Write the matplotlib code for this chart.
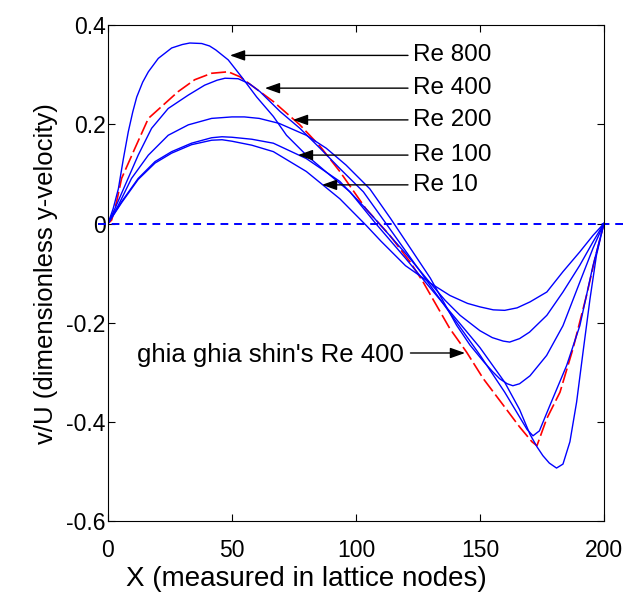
import numpy as np
import matplotlib.pyplot as plt

# centreline v-velocity (x in lattice nodes, v/U)
x_re800 = [0, 2.1, 4.2, 6.2, 8.2, 10, 11.6, 14, 16.3, 20.3, 25.7, 30, 33, 37.8, 41, 43.5, 48.5, 54, 60, 66.7,
           72, 80, 88, 97.6, 108, 120, 130, 140, 150, 160, 166, 170.2, 173, 175.4, 178, 180.9, 183.5, 186.3,
           189, 191.7, 194.4, 197, 200]
v_re800 = [0, 0.03, 0.07, 0.13, 0.185, 0.225, 0.255, 0.285, 0.306, 0.333, 0.354, 0.361, 0.364, 0.363, 0.358,
           0.350, 0.33, 0.295, 0.255, 0.216, 0.178, 0.138, 0.104, 0.064, 0.0, -0.07, -0.13, -0.19, -0.25, -0.32,
           -0.375, -0.425, -0.45, -0.468, -0.483, -0.493, -0.485, -0.44, -0.36, -0.255, -0.152, -0.064, 0]

x_re400 = [0, 2.8, 6.9, 12.2, 17.6, 24.3, 32.4, 39, 44, 47.2, 52.5, 57, 61.3, 69.4, 77.4, 85.5, 93.5, 103, 110,
           120, 130, 140, 150, 160, 166, 169, 171.4, 174, 178.2, 185, 190.3, 195.6, 200]
v_re400 = [0, 0.03, 0.077, 0.138, 0.192, 0.232, 0.259, 0.279, 0.289, 0.293, 0.292, 0.282, 0.266, 0.226, 0.192,
           0.152, 0.111, 0.064, 0.015, -0.055, -0.125, -0.195, -0.265, -0.34, -0.39, -0.415, -0.428, -0.418,
           -0.367, -0.286, -0.206, -0.085, 0]

x_re200 = [0, 4.2, 9.5, 16.3, 24.3, 32.4, 41.8, 50, 55, 61, 69, 80, 88, 96, 105.6, 114, 122, 130, 140.6, 146,
           151.6, 155, 158, 161, 163.3, 166, 170.2, 176.9, 183.5, 190.3, 195.6, 200]
v_re200 = [0, 0.037, 0.091, 0.138, 0.178, 0.199, 0.212, 0.215, 0.215, 0.212, 0.202, 0.178, 0.152, 0.118, 0.07,
           0.01, -0.05, -0.11, -0.205, -0.245, -0.279, -0.298, -0.313, -0.323, -0.327, -0.323, -0.307, -0.266,
           -0.206, -0.118, -0.05, 0]

x_re100 = [0, 5.5, 12.2, 19, 25.7, 33.7, 41.8, 46, 50, 58, 66.7, 80, 93.5, 104, 112, 120, 130, 136, 142, 150,
           155, 159.4, 162, 166, 170, 177, 183.5, 190.3, 195.6, 200]
v_re100 = [0, 0.044, 0.091, 0.125, 0.145, 0.162, 0.173, 0.175, 0.174, 0.170, 0.162, 0.131, 0.085, 0.03, -0.015,
           -0.06, -0.12, -0.155, -0.185, -0.216, -0.23, -0.237, -0.239, -0.232, -0.219, -0.185, -0.138, -0.084,
           -0.037, 0]

x_re10 = [0, 5.5, 12.2, 19, 25.7, 33.7, 41.8, 46, 50, 58, 66.7, 80, 93.5, 104, 110, 120, 130, 137.9, 145, 150,
          155.4, 160, 165, 170.2, 177, 183.5, 190.3, 195.6, 200]
v_re10 = [0, 0.042, 0.089, 0.122, 0.142, 0.159, 0.168, 0.169, 0.166, 0.158, 0.145, 0.105, 0.05, -0.003, -0.035,
          -0.085, -0.12, -0.145, -0.161, -0.168, -0.174, -0.175, -0.17, -0.158, -0.138, -0.097, -0.057, -0.024, 0]

# ghia, ghia & shin reference, Re 400
x_ghia = [0, 1.5, 3.5, 5.5, 10.9, 16.3, 22.3, 28.3, 35, 41.8, 48.5, 53.2, 66.7, 77.4, 85.5, 93.5, 104, 113.7,
          121.8, 127, 131, 137.9, 144.6, 151.4, 160, 166, 171, 173, 176.9, 182.3, 187.5, 190.3, 193, 196.4, 200]
v_ghia = [0, 0.007, 0.044, 0.091, 0.152, 0.212, 0.239, 0.266, 0.29, 0.303, 0.306, 0.296, 0.246, 0.199, 0.156,
          0.105, 0.03, -0.024, -0.077, -0.117, -0.152, -0.212, -0.259, -0.313, -0.37, -0.41, -0.44, -0.448,
          -0.394, -0.34, -0.253, -0.198, -0.145, -0.071, 0]

labels = ['Re 800', 'Re 400', 'Re 200', 'Re 100', 'Re 10']
label_y = [0.339, 0.273, 0.209, 0.138, 0.078]
tip_x = [49.2, 63.3, 74.6, 76.6, 86.3]

plt.rcParams['font.family'] = ['Liberation Sans', 'DejaVu Sans']

fig = plt.figure(figsize=(6.35, 5.99), dpi=100)
ax = fig.add_axes([0.170, 0.130, 0.781, 0.828])

ax.plot(x_ghia, v_ghia, color='red', linewidth=1.2, linestyle=(0, (9, 2.5)))
for xs, vs in [(x_re800, v_re800), (x_re400, v_re400), (x_re200, v_re200),
               (x_re100, v_re100), (x_re10, v_re10)]:
    ax.plot(xs, vs, color='blue', linewidth=1.0)

ax.plot([-4, 209], [0, 0], color='blue', linestyle=(0, (4, 3)), linewidth=1.4, clip_on=False)

arrow = dict(arrowstyle='-|>,head_length=0.9,head_width=0.32', color='black', lw=1.0,
             shrinkA=0, shrinkB=0)
for lab, ly, tx in zip(labels, label_y, tip_x):
    ax.text(123, ly, lab, fontsize=17.5, ha='left', va='center')
    ax.annotate('', xy=(tx, ly), xytext=(121, ly), arrowprops=arrow)

ax.text(11.7, -0.265, "ghia ghia shin's Re 400", fontsize=18.5, ha='left', va='center')
ax.annotate('', xy=(144, -0.261), xytext=(122, -0.261), arrowprops=arrow)

ax.set_xlim(0, 200)
ax.set_ylim(-0.6, 0.4)
ax.set_xticks([0, 50, 100, 150, 200])
ax.set_yticks([-0.6, -0.4, -0.2, 0, 0.2, 0.4])
ax.set_yticklabels(['-0.6', '-0.4', '-0.2', '0', '0.2', '0.4'])
ax.tick_params(direction='in', length=5, top=True, right=True, labelsize=16.5)
ax.tick_params(axis='x', pad=13)
ax.tick_params(axis='y', pad=1.5)
ax.set_xlabel('X (measured in lattice nodes)', fontsize=20)
ax.xaxis.set_label_coords(0.401, -0.117, transform=ax.transAxes)
ax.xaxis.label.set_va('center')
ax.set_ylabel('v/U (dimensionless y-velocity)', fontsize=18.5, labelpad=6)

plt.savefig('out.png')
plt.close()
